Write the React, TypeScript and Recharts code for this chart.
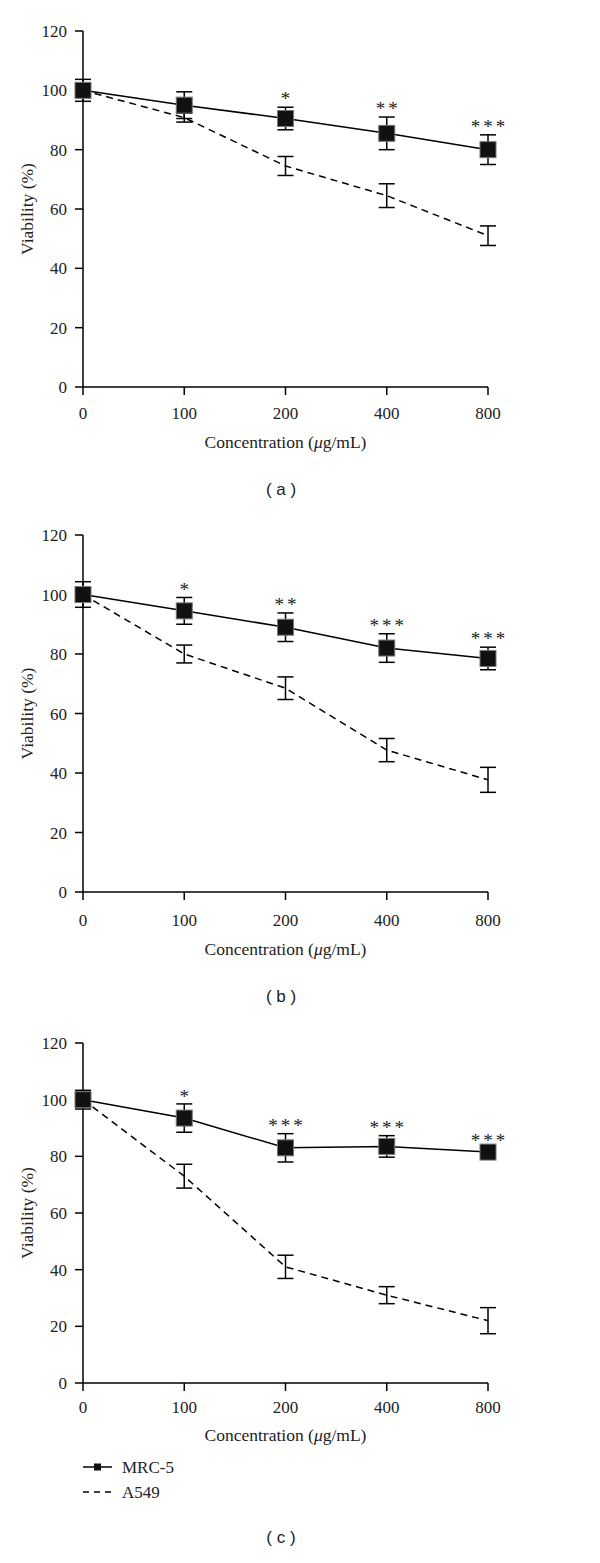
import { LineChart, Line, XAxis, YAxis, ErrorBar, LabelList, Legend } from 'recharts';

const concLabels = ['0', '100', '200', '400', '800'];
const yTicks = [0, 20, 40, 60, 80, 100, 120];

// panel (a)
const mrcA = [100, 95, 90.5, 85.5, 80];
const mrcErrA = [3.7, 4.5, 3.8, 5.5, 5];
const a549A = [100, 90.8, 74.5, 64.5, 51];
const a549ErrA = [2, 1.5, 3.2, 4, 3.3];
const sigA = ['', '', '*', '**', '***'];

// panel (b)
const mrcB = [100, 94.5, 89, 82, 78.5];
const mrcErrB = [4.3, 4.5, 4.8, 4.8, 3.8];
const a549B = [100, 80, 68.5, 47.7, 37.7];
const a549ErrB = [2, 3, 3.8, 3.9, 4.2];
const sigB = ['', '*', '**', '***', '***'];

// panel (c)
const mrcC = [100, 93.5, 83, 83.5, 81.5];
const mrcErrC = [3.3, 5, 5, 3.8, 1.5];
const a549C = [100, 73, 41, 31, 22];
const a549ErrC = [2.5, 4.2, 4.1, 3, 4.6];
const sigC = ['', '*', '***', '***', '***'];

const SERIF = '"Liberation Serif", "DejaVu Serif", serif';
const SANS = '"Liberation Sans", Arial, sans-serif';
const INK = '#222';

const LEFT = 23;
const YW = 60;
const RIGHT = 112;
const TOP = 20;
const PLOT_L = LEFT + YW;
const PLOT_R = 600 - RIGHT;

function buildRows(mrc: number[], mrcErr: number[], a549: number[], a549Err: number[], sig: string[]) {
  return concLabels.map((c, i) => ({
    conc: c,
    mrc: mrc[i],
    mrcErr: mrcErr[i],
    a549: a549[i],
    a549Err: a549Err[i],
    sig: sig[i],
  }));
}

const SquareDot = (p: any) => (
  <rect
    key={`sq-${p.index}`}
    x={p.cx - 8}
    y={p.cy - 8}
    width={16}
    height={16}
    fill="#111"
    stroke="#777"
    strokeWidth={1}
  />
);

const StarLabel = (p: any) => {
  if (!p.value) return null;
  return (
    <text x={p.x + 1.5} y={p.y} dy={10} textAnchor="middle" fontFamily={SERIF} fontSize={19} letterSpacing={3} fill={INK}>
      {p.value}
    </text>
  );
};

const LegendContent = (props: any) => {
  const items = (props.payload || []).filter((e: any) => e.type !== 'none' && typeof e.value === 'string');
  const ordered = [...items].sort((a: any, b: any) => (a.value === 'MRC-5' ? -1 : b.value === 'MRC-5' ? 1 : 0));
  return (
    <svg width={150} height={50} style={{ display: 'block' }}>
      {ordered.map((e: any, i: number) => {
        const cy = 10 + i * 25;
        const dashed = e.value !== 'MRC-5';
        return (
          <g key={e.value}>
            <line x1={5} x2={34} y1={cy} y2={cy} stroke="#000" strokeWidth={1.5} strokeDasharray={dashed ? '6 5' : undefined} />
            {!dashed && <rect x={16} y={cy - 3.5} width={7} height={7} fill="#111" />}
            <text x={44} y={cy + 6} fontFamily={SERIF} fontSize={17} fill={INK}>
              {e.value}
            </text>
          </g>
        );
      })}
    </svg>
  );
};

interface PanelProps {
  rows: ReturnType<typeof buildRows>;
  plotTop: number;
  plotBottom: number;
  tickMargin: number;
  titleGap: number;
  captionY: number;
  letter: string;
  legend?: boolean;
}

function Panel({ rows, plotTop, plotBottom, tickMargin, titleGap, captionY, letter, legend }: PanelProps) {
  const plotH = plotBottom - plotTop;
  const extra = legend ? 130 : 100;
  const height = TOP + plotH + extra;

  const XTitle = () => (
    <text x={(PLOT_L + PLOT_R) / 2} y={TOP + plotH + titleGap + 6} textAnchor="middle" fontFamily={SERIF} fontSize={17.5} fill={INK}>
      Concentration (<tspan fontStyle="italic">μ</tspan>g/mL)
    </text>
  );
  const YTitle = () => (
    <text
      x={27}
      y={TOP + plotH / 2}
      transform={`rotate(-90, 27, ${TOP + plotH / 2})`}
      textAnchor="middle"
      dominantBaseline="central"
      fontFamily={SERIF}
      fontSize={17.5}
      fill={INK}
    >
      Viability (%)
    </text>
  );

  return (
    <>
      <div style={{ position: 'absolute', left: 0, top: plotTop - TOP }}>
        <LineChart width={600} height={height} data={rows} margin={{ top: TOP, right: RIGHT, left: LEFT, bottom: 0 }}>
          <XAxis
            dataKey="conc"
            type="category"
            height={extra}
            padding={{ left: 0, right: 0 }}
            tickSize={8}
            tickMargin={tickMargin}
            axisLine={{ stroke: '#000', strokeWidth: 1.5 }}
            tickLine={{ stroke: '#000', strokeWidth: 1.5 }}
            tick={{ fill: INK, fontFamily: SERIF, fontSize: 17 }}
            label={XTitle}
          />
          <YAxis
            type="number"
            domain={[0, 120]}
            ticks={yTicks}
            width={YW}
            tickSize={8}
            tickMargin={8}
            axisLine={{ stroke: '#000', strokeWidth: 1.5 }}
            tickLine={{ stroke: '#000', strokeWidth: 1.5 }}
            tick={{ fill: INK, fontFamily: SERIF, fontSize: 17 }}
            label={YTitle}
          />
          <Line
            name="A549"
            dataKey="a549"
            stroke="#000"
            strokeWidth={1.5}
            strokeDasharray="7 5"
            dot={false}
            activeDot={false}
            isAnimationActive={false}
          >
            <ErrorBar dataKey="a549Err" direction="y" width={8} stroke="#000" strokeWidth={1.5} isAnimationActive={false} />
          </Line>
          <Line
            name="MRC-5"
            dataKey="mrc"
            stroke="#000"
            strokeWidth={1.5}
            dot={SquareDot}
            activeDot={false}
            isAnimationActive={false}
          >
            <ErrorBar dataKey="mrcErr" direction="y" width={8} stroke="#000" strokeWidth={1.5} isAnimationActive={false} />
          </Line>
          <Line
            dataKey={(d: any) => d.mrc + d.mrcErr + 4}
            stroke="none"
            dot={false}
            activeDot={false}
            legendType="none"
            isAnimationActive={false}
          >
            <LabelList dataKey="sig" content={StarLabel} />
          </Line>
          {legend && (
            <Legend
              layout="vertical"
              align="center"
              verticalAlign="middle"
              wrapperStyle={{ left: 78, top: TOP + plotH + 84 - 10, width: 150, height: 50 }}
              content={<LegendContent />}
            />
          )}
        </LineChart>
      </div>
      <div
        style={{
          position: 'absolute',
          left: 0,
          top: captionY - 10,
          width: 562,
          textAlign: 'center',
          fontFamily: SANS,
          fontSize: 17,
          lineHeight: '20px',
          color: INK,
        }}
      >
        {`( ${letter} )`}
      </div>
    </>
  );
}

export default function App() {
  const rowsA = buildRows(mrcA, mrcErrA, a549A, a549ErrA, sigA);
  const rowsB = buildRows(mrcB, mrcErrB, a549B, a549ErrB, sigB);
  const rowsC = buildRows(mrcC, mrcErrC, a549C, a549ErrC, sigC);
  return (
    <div style={{ position: 'absolute', left: 0, top: 0, width: 600, height: 1563, background: '#fff' }}>
      <Panel rows={rowsA} plotTop={31} plotBottom={387} tickMargin={12} titleGap={55} captionY={490} letter="a" />
      <Panel rows={rowsB} plotTop={535} plotBottom={892} tickMargin={14} titleGap={57} captionY={997} letter="b" />
      <Panel rows={rowsC} plotTop={1043} plotBottom={1383} tickMargin={10} titleGap={52} captionY={1538} letter="c" legend />
    </div>
  );
}
